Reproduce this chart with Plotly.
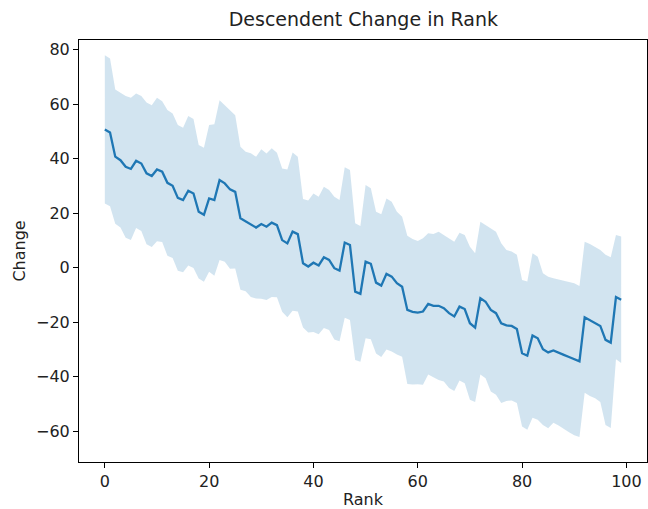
import numpy as np
import plotly.graph_objects as go

# Mean change per rank and the spread (one standard deviation) around it
rank = list(range(100))

mean_change = [
    50.7, 49.6, 40.7, 39.4, 37.0, 36.2, 39.2, 38.2, 34.6, 33.6,
    36.0, 35.2, 31.1, 30.0, 25.6, 24.8, 28.2, 27.2, 20.5, 19.4,
    25.4, 24.8, 32.1, 30.9, 28.7, 27.8, 18.1, 16.9, 15.6, 14.7,
    16.0, 15.0, 16.5, 15.6, 10.1, 8.9, 13.2, 12.3, 1.6, 0.4,
    1.8, 0.8, 3.8, 2.8, -0.2, -1.1, 9.2, 8.3, -8.8, -9.6,
    2.2, 1.4, -5.5, -6.6, -2.3, -3.3, -5.7, -7.0, -15.5, -16.2,
    -16.5, -16.1, -13.3, -14.0, -14.0, -14.9, -16.7, -17.9, -14.3, -15.2,
    -20.4, -22.0, -11.2, -12.5, -15.5, -16.7, -20.4, -21.2, -21.4, -22.5,
    -31.4, -32.3, -24.9, -25.9, -29.9, -31.1, -30.4, -31.1, -32.0, -32.8,
    -33.6, -34.4, -18.2, -19.2, -20.1, -21.4, -26.5, -27.5, -10.8, -11.8,
]

spread = [
    27.2, 27.1, 24.6, 24.7, 26.0, 26.1, 24.7, 24.8, 26.0, 26.0,
    26.3, 25.8, 26.7, 26.5, 26.7, 26.5, 27.4, 27.3, 24.5, 24.6,
    26.9, 27.8, 29.3, 28.7, 29.1, 28.1, 26.2, 25.6, 26.4, 26.0,
    27.4, 26.9, 27.3, 26.5, 26.3, 27.1, 29.0, 28.4, 23.6, 24.2,
    25.4, 25.2, 25.9, 25.7, 26.2, 25.9, 27.6, 27.5, 25.1, 24.9,
    28.1, 27.7, 26.0, 26.2, 27.7, 27.5, 26.2, 25.7, 27.2, 26.7,
    26.3, 26.9, 25.9, 26.3, 27.2, 26.9, 27.5, 27.4, 27.1, 27.2,
    28.1, 27.3, 28.0, 28.1, 29.9, 29.9, 29.3, 27.7, 27.3, 27.2,
    26.9, 27.2, 30.2, 29.9, 27.8, 27.8, 26.5, 26.8, 27.3, 27.6,
    27.9, 27.7, 27.7, 27.9, 27.8, 27.9, 31.2, 31.3, 22.8, 23.2,
]

x_ticks = [0, 20, 40, 60, 80, 100]
y_ticks = [-60, -40, -20, 0, 20, 40, 60, 80]

mean_arr = np.array(mean_change)
spread_arr = np.array(spread)
upper = mean_arr + spread_arr
lower = mean_arr - spread_arr

blue = "#1f77b4"
band = "rgba(31,119,180,0.2)"

fig = go.Figure()
fig.add_trace(go.Scatter(x=rank, y=upper, mode="lines", line=dict(width=0),
                         hoverinfo="skip", showlegend=False))
fig.add_trace(go.Scatter(x=rank, y=lower, mode="lines", line=dict(width=0),
                         fill="tonexty", fillcolor=band,
                         hoverinfo="skip", showlegend=False))
fig.add_trace(go.Scatter(x=rank, y=mean_change, mode="lines",
                         line=dict(color=blue, width=2.3), showlegend=False))

axis_common = dict(
    showline=True, linecolor="black", linewidth=1, mirror=True,
    ticks="outside", ticklen=5, tickwidth=1, tickcolor="black",
    showgrid=False, zeroline=False,
    tickfont=dict(size=16, color="#222222"),
)

fig.update_layout(
    width=648, height=509,
    margin=dict(l=79, r=1, t=40, b=47),
    paper_bgcolor="white", plot_bgcolor="white",
    font=dict(family="DejaVu Sans", color="#222222"),
    title=dict(text="Descendent Change in Rank", x=0.5607, xanchor="center",
               y=0.962, yanchor="middle", font=dict(size=19)),
    xaxis=dict(range=[-4.95, 103.95], tickvals=x_ticks,
               title=dict(text="Rank", font=dict(size=16), standoff=4),
               **axis_common),
    yaxis=dict(range=[-71.3, 83.5], tickvals=y_ticks,
               title=dict(text="Change", font=dict(size=16), standoff=6),
               **axis_common),
)

fig.write_html("out.html")
